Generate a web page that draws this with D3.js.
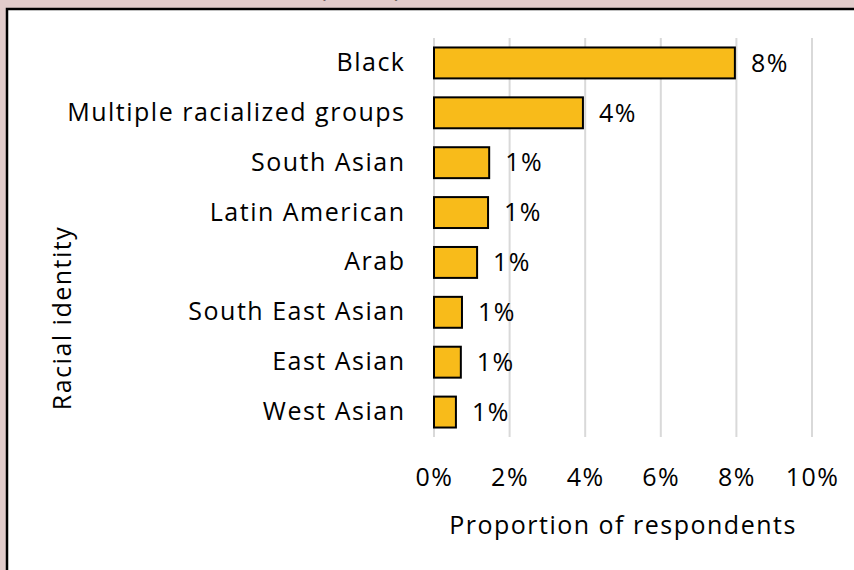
<!DOCTYPE html>
<html>
<head>
<meta charset="utf-8">
<script src="https://cdn.jsdelivr.net/npm/d3@7"></script>
<style>
  body { margin: 0; background: #e2cccb; }
  svg { display: block; }
  text { font-family: "Open Sans", Lato, sans-serif; fill: #000; letter-spacing: 1.5px; }
</style>
</head>
<body>
<div id="chart"></div>
<script>
// categories, top to bottom
const categories = ["Black", "Multiple racialized groups", "South Asian", "Latin American",
                    "Arab", "South East Asian", "East Asian", "West Asian"];
// proportion of respondents (%)
const values = [7.96, 3.94, 1.46, 1.43, 1.14, 0.74, 0.71, 0.58];
const valueLabels = ["8%", "4%", "1%", "1%", "1%", "1%", "1%", "1%"];
const xTicks = [0, 2, 4, 6, 8, 10];

const width = 854, height = 570;
const margin = {top: 38, right: 42, bottom: 133, left: 434};
const fontSize = "25px";

const svg = d3.select("#chart").append("svg")
    .attr("width", width)
    .attr("height", height);

// cut-off title remnant above the panel (only the bottoms of the brackets show)
svg.append("text")
    .attr("x", 361).attr("y", -4)
    .attr("text-anchor", "middle")
    .style("font-size", "26px")
    .style("white-space", "pre")
    .text("(        )");

// white chart panel with dark border
svg.append("rect")
    .attr("x", 7).attr("y", 9)
    .attr("width", 900).attr("height", 600)
    .attr("fill", "#fff")
    .attr("stroke", "#000")
    .attr("stroke-width", 2.5);

const x = d3.scaleLinear()
    .domain([0, 10])
    .range([margin.left, width - margin.right]);

const y = d3.scaleBand()
    .domain(categories)
    .range([margin.top, height - margin.bottom])
    .paddingInner(0.38)
    .paddingOuter(0.19);

// gridlines
svg.append("g")
    .selectAll("line")
    .data(xTicks)
    .join("line")
    .attr("x1", d => x(d)).attr("x2", d => x(d))
    .attr("y1", margin.top).attr("y2", height - margin.bottom)
    .attr("stroke", "#d9d9d9")
    .attr("stroke-width", 2);

// x axis tick labels
const xAxis = d3.axisBottom(x)
    .tickValues(xTicks)
    .tickFormat(d => d + "%")
    .tickSize(0)
    .tickPadding(0);

svg.append("g")
    .attr("transform", `translate(0,${height - margin.bottom + 31})`)
    .call(xAxis)
    .call(g => g.select(".domain").remove())
    .selectAll("text")
    .style("font-size", fontSize)
    .style("font-family", "'Open Sans', Lato, sans-serif")
    .attr("fill", "#000");

// y axis category labels
const yAxis = d3.axisLeft(y).tickSize(0).tickPadding(28.5);
svg.append("g")
    .attr("transform", `translate(${margin.left},0)`)
    .call(yAxis)
    .call(g => g.select(".domain").remove())
    .selectAll("text")
    .style("font-size", fontSize)
    .style("font-family", "'Open Sans', Lato, sans-serif")
    .attr("fill", "#000");

// bars
svg.append("g")
    .selectAll("rect")
    .data(categories)
    .join("rect")
    .attr("x", x(0))
    .attr("y", d => y(d))
    .attr("width", (d, i) => x(values[i]) - x(0))
    .attr("height", y.bandwidth())
    .attr("fill", "#f8bb1a")
    .attr("stroke", "#000")
    .attr("stroke-width", 2);

// value labels
svg.append("g")
    .selectAll("text")
    .data(categories)
    .join("text")
    .attr("x", (d, i) => x(values[i]) + 16)
    .attr("y", d => y(d) + y.bandwidth() / 2)
    .attr("dy", "0.35em")
    .style("font-size", fontSize)
    .text((d, i) => valueLabels[i]);

// axis titles
svg.append("text")
    .attr("x", (x(0) + x(10)) / 2)
    .attr("y", 534)
    .attr("text-anchor", "middle")
    .style("font-size", fontSize)
    .text("Proportion of respondents");

svg.append("text")
    .attr("transform", `translate(71,318) rotate(-90)`)
    .attr("text-anchor", "middle")
    .style("font-size", fontSize)
    .text("Racial identity");
</script>
</body>
</html>
